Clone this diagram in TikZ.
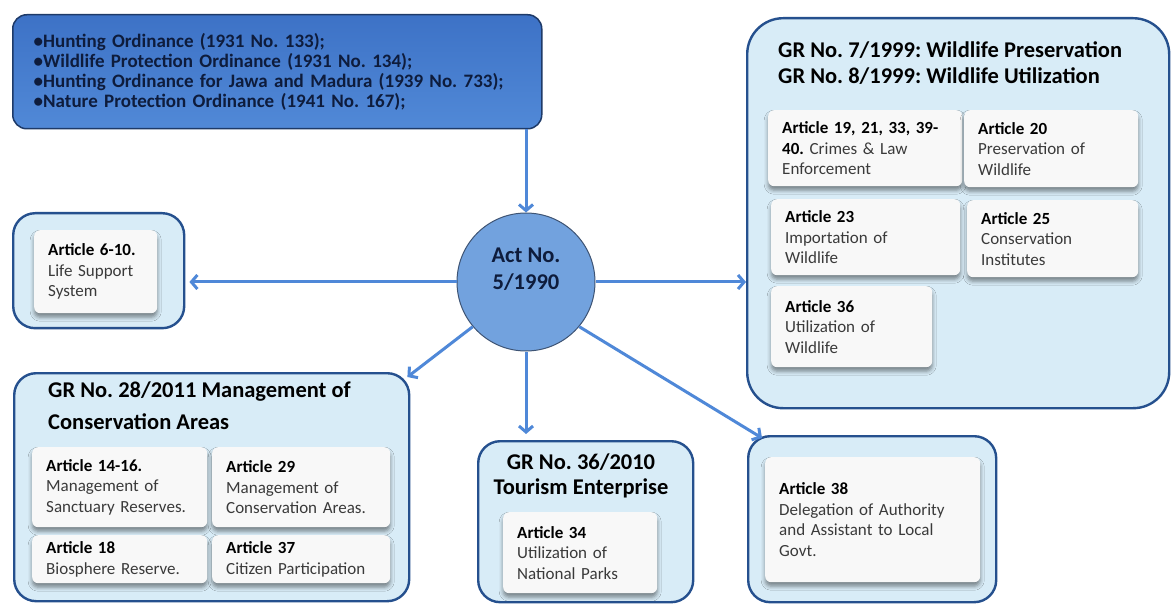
\documentclass[tikz,border=0pt]{standalone}
\usepackage{fontspec}
\setmainfont{Carlito}
\usepackage{xcolor}
\usetikzlibrary{arrows.meta,calc,shadows.blur}
\frenchspacing

\definecolor{hdrtop}{HTML}{3D72C6}
\definecolor{hdrbot}{HTML}{5189D7}
\definecolor{hdrline}{HTML}{1E3A68}
\definecolor{hdrtext}{HTML}{0E1C3C}
\definecolor{actblue}{HTML}{72A2DE}
\definecolor{actline}{HTML}{3E5474}
\definecolor{grpfill}{HTML}{D8ECF7}
\definecolor{grpline}{HTML}{25508E}
\definecolor{cardfill}{HTML}{F8F8F8}
\definecolor{cardtext}{HTML}{3A3A3A}
\definecolor{linkblue}{HTML}{4F88D8}

\newcommand{\arthead}[1]{\textcolor{black}{\bfseries #1}}

\tikzset{
	ordbox/.style={anchor=north west, draw=hdrline, line width=1.5pt, rounded corners=14pt,
			top color=hdrtop, bottom color=hdrbot, text=hdrtext, align=left,
			inner xsep=21pt, font=\bfseries\fontsize{19}{20}\selectfont},
	actcircle/.style={circle, draw=actline, line width=1pt, fill=actblue, minimum size=138pt},
	acttext/.style={align=center, text=hdrtext, inner sep=0pt, font=\bfseries\fontsize{22.5}{27}\selectfont},
	group/.style={anchor=north west, draw=grpline, line width=2.4pt, fill=grpfill,
			rounded corners=22pt, inner sep=0pt},
	grouptitle/.style={inner sep=0pt, text=black, font=\bfseries\fontsize{22.5}{#1}\selectfont},
	card/.style={anchor=north west, fill=cardfill, rounded corners=6pt, align=left,
			inner xsep=14pt, inner ysep=0pt, text=cardtext, font=\fontsize{17}{20.5}\selectfont,
			blur shadow={shadow xshift=0pt, shadow yshift=-4pt, shadow blur radius=4pt, shadow opacity=45}},
	link/.style={draw=linkblue, line width=3pt, -{Straight Barb[length=6pt,width=14pt]}}
}

\begin{document}
\begin{tikzpicture}[x=1pt, y=-1pt]
	\useasboundingbox[fill=white] (0,0) rectangle (1171,604);

	% Old ordinances
	\node (ordin) [ordbox, text width=487pt, minimum height=114pt] at (12,14)
		{•Hunting Ordinance (1931 No. 133);\\
		 •Wildlife Protection Ordinance (1931 No. 134);\\
		 •Hunting Ordinance for Jawa and Madura (1939 No. 733);\\
		 •Nature Protection Ordinance (1941 No. 167);};

	% Central act
	\node (act) [actcircle] at (526,282) {};
	\node (actlabel) [acttext] at (526,269) {Act No.\\5/1990};

	% Life support system
	\node (life) [group, minimum width=171pt, minimum height=115pt] at (12,212) {};
	\node (art6) [card, text width=95pt, minimum height=83pt] at (34,230)
		{\arthead{Article 6-10.}\\Life Support\\System};

	% Wildlife preservation and utilization
	\node (wild) [group, rounded corners=36pt, minimum width=422pt, minimum height=390pt] at (746,17) {};
	\node (wildtitle) [grouptitle=26, anchor=north west, align=left] at (778,41)
		{GR No. 7/1999: Wildlife Preservation\\GR No. 8/1999: Wildlife Utilization};
	\node (art19) [card, text width=166pt, minimum height=76pt] at (768,110)
		{\arthead{Article 19, 21, 33, 39-}\\\arthead{40.} Crimes \& Law\\Enforcement};
	\node (art20) [card, text width=146pt, minimum height=77pt] at (964,110)
		{\arthead{Article 20}\\Preservation of\\Wildlife};
	\node (art23) [card, text width=161pt, minimum height=76pt] at (771,199)
		{\arthead{Article 23}\\Importation of\\Wildlife};
	\node (art25) [card, text width=143pt, minimum height=77pt] at (967,200)
		{\arthead{Article 25}\\Conservation\\Institutes};
	\node (art36) [card, text width=133pt, minimum height=81pt] at (771,286)
		{\arthead{Article 36}\\Utilization of\\Wildlife};

	% Conservation areas
	\node (cons) [group, minimum width=395pt, minimum height=228pt] at (13,372) {};
	\node (constitle) [grouptitle=32, anchor=north west, align=left] at (48,382)
		{GR No. 28/2011 Management of\\Conservation Areas};
	\node (art14) [card, text width=147pt, minimum height=80pt] at (32,447)
		{\arthead{Article 14-16.}\\Management of\\Sanctuary Reserves.};
	\node (art29) [card, text width=150pt, minimum height=80pt] at (212,447)
		{\arthead{Article 29}\\Management of\\Conservation Areas.};
	\node (art18) [card, text width=147pt, minimum height=48pt] at (32,535)
		{\arthead{Article 18}\\Biosphere Reserve.};
	\node (art37) [card, text width=150pt, minimum height=48pt] at (212,535)
		{\arthead{Article 37}\\Citizen Participation};

	% Tourism enterprise
	\node (tour) [group, minimum width=215pt, minimum height=161pt] at (477,440) {};
	\node (tourtitle) [grouptitle=25, anchor=north, align=center] at (581,454)
		{GR No. 36/2010\\Tourism Enterprise};
	\node (art34) [card, text width=126pt, minimum height=81pt] at (503,512)
		{\arthead{Article 34}\\Utilization of\\National Parks};

	% Delegation of authority
	\node (dele) [group, minimum width=248pt, minimum height=166pt] at (747,435) {};
	\node (art38) [card, text width=187pt, minimum height=125pt] at (765,457)
		{\arthead{Article 38}\\Delegation of Authority\\and Assistant to Local\\Govt.};

	% Links
	\draw[link] (ordin.south -| act.north) -- (act.north);
	\draw[link, shorten >=4pt] (act.west) -- (act.west -| life.east);
	\draw[link] (act.east) -- (act.east -| wild.west);
	\draw[link, shorten >=6pt] (act.south) -- (act.south |- tour.north);
	\draw[link] (act.220) -- ($(cons.north east)+(-3,5)$);
	\draw[link] (act.-40) -- ($(dele.north west)+(15,3)$);
\end{tikzpicture}
\end{document}
